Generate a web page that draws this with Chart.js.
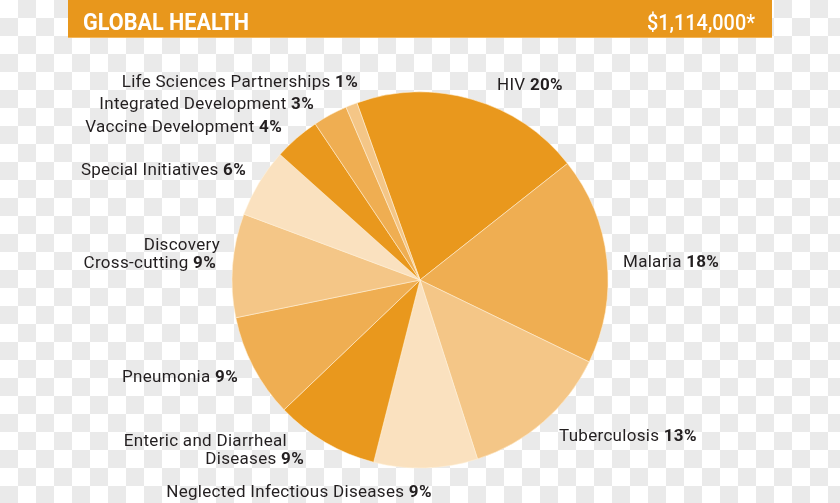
<!DOCTYPE html>
<html>
<head>
<meta charset="utf-8">
<script src="https://cdn.jsdelivr.net/npm/chart.js@4.4.1/dist/chart.umd.min.js"></script>
<style>
    html, body {
        margin: 0;
        padding: 0;
    }
    body {
        width: 840px;
        height: 503px;
        overflow: hidden;
        background-color: #ffffff;
        background-image: repeating-conic-gradient(#eaeaea 0 25%, #ffffff 0 50%);
        background-size: 36px 36px;
    }
    #wrap {
        position: relative;
        width: 840px;
        height: 503px;
    }
</style>
</head>
<body>
<div id="wrap">
    <canvas id="healthChart" width="840" height="503"></canvas>
</div>
<script>
// Chart data
const title = 'GLOBAL HEALTH';
const total = '$1,114,000*';
const categories = [
    'HIV',
    'Malaria',
    'Tuberculosis',
    'Neglected Infectious Diseases',
    'Enteric and Diarrheal Diseases',
    'Pneumonia',
    'Discovery Cross-cutting',
    'Special Initiatives',
    'Vaccine Development',
    'Integrated Development',
    'Life Sciences Partnerships'
];
const shares = [20, 18, 13, 9, 9, 9, 9, 6, 4, 3, 1];
// how each category name is split over lines in the label
const labelLines = [
    ['HIV'],
    ['Malaria'],
    ['Tuberculosis'],
    ['Neglected Infectious Diseases'],
    ['Enteric and Diarrheal', 'Diseases'],
    ['Pneumonia'],
    ['Discovery', 'Cross-cutting'],
    ['Special Initiatives'],
    ['Vaccine Development'],
    ['Integrated Development'],
    ['Life Sciences Partnerships']
];

// Styling / layout
const dark = '#e9981d';
const mid = '#efae52';
const light = '#f4c687';
const pale = '#fae1bf';
const sliceColors = [dark, mid, light, pale, dark, mid, light, pale, dark, mid, light];
const textColor = '#231f20';

// label anchor per line: [x, y, align]
const labelSpots = [
    [[497, 86, 'left']],
    [[623, 263, 'left']],
    [[559, 437, 'left']],
    [[299, 493, 'center']],
    [[287, 442, 'right'], [304, 460, 'right']],
    [[238, 378, 'right']],
    [[220, 246, 'right'], [216, 264, 'right']],
    [[246, 171, 'right']],
    [[282, 128, 'right']],
    [[314, 105, 'right']],
    [[358, 83, 'right']]
];

const regularFont = '17px Roboto';
const boldFont = 'bold 17px Roboto';
const labelSpacing = '0.3px';

const headerPlugin = {
    id: 'header',
    afterDraw(chart) {
        const ctx = chart.ctx;
        ctx.save();
        ctx.fillStyle = '#e8971c';
        ctx.fillRect(68, 0, 704, 38);
        ctx.fillStyle = '#f3b65a';
        ctx.fillRect(68, 37, 704, 1);
        ctx.fillStyle = '#ffffff';
        ctx.textBaseline = 'alphabetic';
        ctx.font = 'bold 23px Roboto';
        ctx.textAlign = 'left';
        ctx.fillText(title, 83, 30, 166);
        ctx.font = '500 22px Roboto';
        ctx.textAlign = 'right';
        ctx.fillText(total, 755, 30, 108);
        ctx.restore();
    }
};

const labelPlugin = {
    id: 'sliceLabels',
    afterDraw(chart) {
        const ctx = chart.ctx;
        ctx.save();
        ctx.fillStyle = textColor;
        ctx.textBaseline = 'middle';
        ctx.textAlign = 'left';
        ctx.letterSpacing = labelSpacing;
        labelLines.forEach((lines, i) => {
            lines.forEach((line, j) => {
                const [x, y, align] = labelSpots[i][j];
                const isLast = j === lines.length - 1;
                const pct = isLast ? shares[i] + '%' : '';
                ctx.font = regularFont;
                const nameText = isLast ? line + ' ' : line;
                const w1 = ctx.measureText(nameText).width;
                ctx.font = boldFont;
                const w2 = pct ? ctx.measureText(pct).width : 0;
                const width = w1 + w2;
                let left = x;
                if (align === 'right') left = x - width;
                if (align === 'center') left = x - width / 2;
                ctx.font = regularFont;
                ctx.fillText(nameText, left, y);
                if (pct) {
                    ctx.font = boldFont;
                    ctx.fillText(pct, left + w1, y);
                }
            });
        });
        ctx.restore();
    }
};

document.addEventListener('DOMContentLoaded', function () {
    const healthChart = new Chart(document.getElementById('healthChart').getContext('2d'), {
        type: 'pie',
        data: {
            labels: categories,
            datasets: [{
                data: shares,
                backgroundColor: sliceColors,
                borderColor: 'rgba(255, 240, 215, 0.55)',
                borderWidth: 1
            }]
        },
        options: {
            responsive: false,
            animation: false,
            rotation: -19.6,
            radius: 188,
            layout: {
                padding: { top: 57, bottom: 0, left: 0, right: 0 }
            },
            plugins: {
                legend: { display: false },
                tooltip: { enabled: false }
            }
        },
        plugins: [headerPlugin, labelPlugin]
    });
});
</script>
</body>
</html>
